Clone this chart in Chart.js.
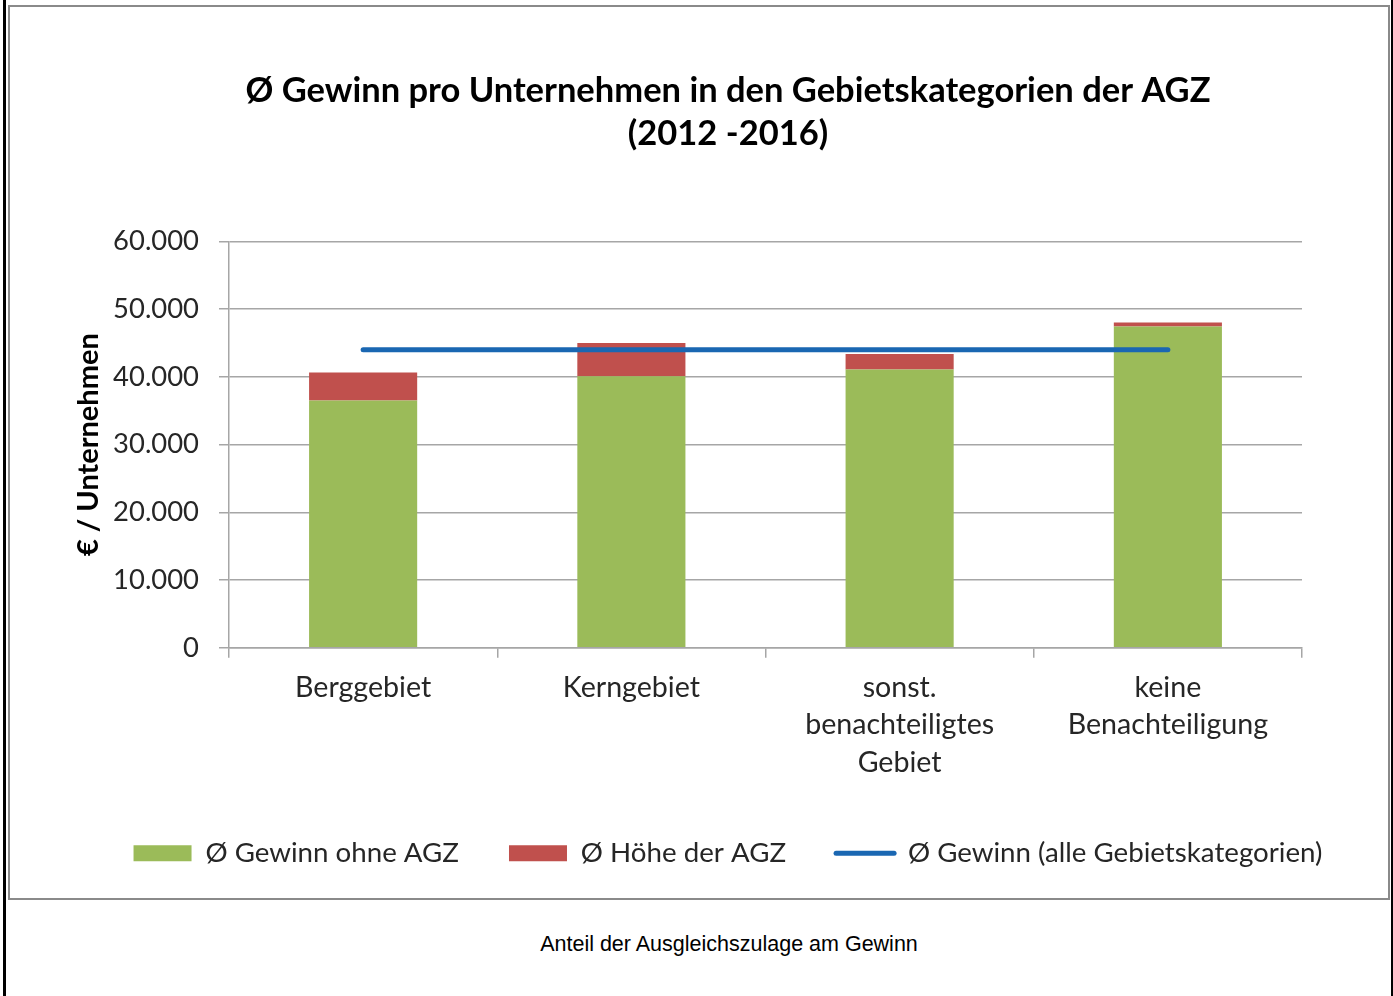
<!DOCTYPE html>
<html>
<head>
<meta charset="utf-8">
<script src="https://cdn.jsdelivr.net/npm/chart.js@4/dist/chart.umd.min.js"></script>
<style>
  html, body { margin: 0; padding: 0; background: #fff; overflow: hidden; width: 1393px; height: 996px; }
  #outer { position: absolute; left: 3px; top: 0; width: 1385px; height: 996px; border-left: 3px solid #000; border-right: 3px solid #000; }
  #box { position: absolute; left: 8px; top: 5px; width: 1378px; height: 891px; border: 2px solid #8a8a8a; background: #fff; }
  #wrap { position: absolute; left: 10px; top: 7px; width: 1378px; height: 891px; }
  #caption { position: absolute; left: 329px; width: 800px; top: 931px; text-align: center; font-family: "Liberation Sans", Arial, sans-serif; font-size: 21.5px; line-height: 26px; color: #000; }
</style>
</head>
<body>
<div id="outer"></div>
<div id="box"></div>
<div id="wrap"><canvas id="c" width="1378" height="891"></canvas></div>
<div id="caption">Anteil der Ausgleichszulage am Gewinn</div>
<script>
const categories = [
  ['Berggebiet'],
  ['Kerngebiet'],
  ['sonst.', 'benachteiligtes', 'Gebiet'],
  ['keine', 'Benachteiligung']
];
const gewinnOhneAGZ = [36500, 40100, 41100, 47450];
const hoeheAGZ = [4150, 4900, 2300, 600];
const gewinnAlle = [44000, 44000, 44000, 44000];
const seriesNames = ['Ø Gewinn ohne AGZ', 'Ø Höhe der AGZ', 'Ø Gewinn (alle Gebietskategorien)'];
const titleLines = ['Ø Gewinn pro Unternehmen in den Gebietskategorien der AGZ', '(2012 -2016)'];
const yAxisTitle = '€ / Unternehmen';

const GREEN = '#9BBB59', RED = '#C0504D', BLUE = '#1a67b2';
const GRID = '#a6a6a6', TXT = '#262626';
const FONT = 'Lato, "Open Sans", sans-serif';

function fmt(v) {
  return String(v).replace(/\B(?=(\d{3})+(?!\d))/g, '.');
}

new Chart(document.getElementById('c'), {
  data: {
    labels: categories,
    datasets: [
      { type: 'line', label: seriesNames[2], data: gewinnAlle, borderColor: BLUE, backgroundColor: BLUE,
        borderWidth: 5, pointRadius: 0, borderCapStyle: 'round', stack: 'avg', order: 0, yAxisID: 'y' },
      { type: 'bar', label: seriesNames[0], data: gewinnOhneAGZ, backgroundColor: GREEN, stack: 's', order: 1,
        categoryPercentage: 1, barPercentage: 0.403, yAxisID: 'y' },
      { type: 'bar', label: seriesNames[1], data: hoeheAGZ, backgroundColor: RED, stack: 's', order: 2,
        categoryPercentage: 1, barPercentage: 0.403, yAxisID: 'y' }
    ]
  },
  options: {
    responsive: false,
    animation: false,
    layout: { padding: { left: 58, right: 0, top: 0, bottom: 21 } },
    plugins: {
      tooltip: { enabled: false },
      title: {
        display: true,
        text: titleLines,
        color: '#000',
        font: { family: FONT, size: 34.5, weight: 'bold', lineHeight: 1.246 },
        padding: { top: 62.5, bottom: 86 }
      },
      legend: {
        position: 'bottom',
        labels: {
          usePointStyle: true,
          pointStyleWidth: 58,
          boxHeight: 16,
          padding: 50,
          color: TXT,
          font: { family: FONT, size: 27.7 },
          generateLabels(chart) {
            const order = [1, 2, 0];
            return order.map(i => {
              const ds = chart.data.datasets[i];
              const isLine = ds.type === 'line';
              return {
                text: ds.label,
                fillStyle: ds.backgroundColor,
                strokeStyle: isLine ? ds.borderColor : ds.backgroundColor,
                lineWidth: isLine ? 5 : 0,
                lineCap: 'round',
                pointStyle: isLine ? 'line' : 'rect',
                datasetIndex: i,
                hidden: false,
                fontColor: TXT
              };
            });
          }
        }
      }
    },
    scales: {
      x: {
        stacked: true,
        offset: true,
        grid: { display: true, offset: true, drawOnChartArea: false, drawTicks: true, tickLength: 10, color: GRID, lineWidth: 1.5 },
        border: { display: true, color: GRID, width: 1.5 },
        ticks: { color: TXT, font: { family: FONT, size: 28.6, lineHeight: 1.31 }, padding: 11, maxRotation: 0, autoSkip: false },
        afterFit(s) { s.height = 141.5; }
      },
      y: {
        stacked: true,
        min: 0, max: 60000,
        position: 'left',
        grid: { color: GRID, lineWidth: 1.5, tickLength: 10, drawTicks: true },
        border: { display: true, color: GRID, width: 1.5 },
        ticks: { stepSize: 10000, color: TXT, font: { family: FONT, size: 27.4 }, padding: 20, callback: v => fmt(v) },
        title: { display: true, text: yAxisTitle, color: '#000', font: { family: FONT, size: 29, weight: 'bold' }, padding: { top: 3, bottom: 0 } },
        afterFit(s) { s.width = 161; }
      },
      yPad: {
        position: 'right',
        display: true,
        grid: { display: false, drawTicks: false },
        border: { display: false },
        ticks: { display: false },
        afterFit(s) { s.width = 86; }
      }
    }
  }
});
</script>
</body>
</html>
